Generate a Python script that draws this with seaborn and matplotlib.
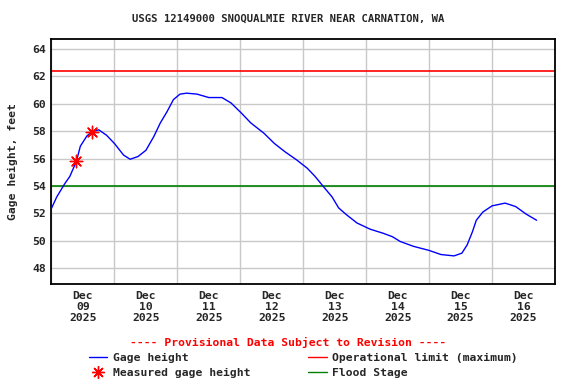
import numpy as np
import pandas as pd
import matplotlib
matplotlib.use('Agg')
from matplotlib import pyplot as plt
from matplotlib.lines import Line2D
import matplotlib.dates as mdates
import seaborn as sns

# gage height readings, hours since 2025-12-09 00:00
hours = [0, 2, 5, 7, 9.5, 11, 13.5, 15.5, 18, 21, 24, 27.5, 30, 33, 36, 39, 41.5, 44,
         46.5, 49, 51.5, 55.5, 60, 65, 68.5, 72.5, 76, 81, 85, 89, 93.5, 97.5, 100.5,
         103.5, 107, 109.5, 112.5, 116.5, 121.5, 126.5, 130, 133, 138, 144, 148.5,
         153.5, 156.5, 158.5, 160.5, 162, 164.5, 168, 173, 177, 181, 185]
gage = [52.37, 53.2, 54.15, 54.7, 55.8, 56.9, 57.65, 57.95, 58.1, 57.7, 57.1, 56.25,
        55.95, 56.15, 56.6, 57.6, 58.6, 59.4, 60.3, 60.7, 60.77, 60.7, 60.45, 60.45,
        60.05, 59.3, 58.6, 57.85, 57.1, 56.5, 55.9, 55.3, 54.7, 54.0, 53.2, 52.4, 51.9,
        51.3, 50.85, 50.55, 50.3, 49.95, 49.6, 49.3, 49.0, 48.9, 49.1, 49.7, 50.65,
        51.5, 52.1, 52.55, 52.75, 52.5, 51.95, 51.5]
meas_hours = [9.5, 15.5]
meas_gage = [55.8, 57.95]
operational_limit = 62.4
flood_stage = 54.0
day_labels = ['09', '10', '11', '12', '13', '14', '15', '16']

start = pd.Timestamp('2025-12-09 00:00')
df = pd.DataFrame({'time': start + pd.to_timedelta(hours, unit='h'), 'gage': gage})
dm = pd.DataFrame({'time': start + pd.to_timedelta(meas_hours, unit='h'), 'gage': meas_gage})

sns.set_style('white')
plt.rcParams['font.family'] = ['DejaVu Sans Mono']
plt.rcParams['font.weight'] = 'bold'
fs = 8.2

fig = plt.figure(figsize=(5.76, 3.84), dpi=100)
ax = fig.add_axes([0.0894, 0.2604, 0.8741, 0.6373])

ax.axhline(operational_limit, color='#ff0000', lw=1.2, zorder=2)
ax.axhline(flood_stage, color='#008000', lw=1.2, zorder=2)
sns.lineplot(data=df, x='time', y='gage', ax=ax, color='#0000ff', lw=1.0, zorder=3)
sns.scatterplot(data=dm, x='time', y='gage', ax=ax, color='#ff0000', marker=(8, 2, 0),
                s=80, linewidth=1.0, zorder=4)

ax.set_xlim(start, start + pd.Timedelta(days=8))
ax.set_ylim(46.85, 64.7)
ax.set_yticks(np.arange(48, 65, 2))
ax.xaxis.set_major_locator(mdates.DayLocator())
ax.xaxis.set_major_formatter(plt.NullFormatter())
ax.set_xticks(start + pd.to_timedelta(np.arange(8) * 24 + 12, unit='h'), minor=True)
ax.set_xticklabels(['Dec\n%s\n2025' % d for d in day_labels], minor=True,
                   fontsize=fs, fontweight='bold', linespacing=1.1)
ax.tick_params(axis='x', which='both', length=0, pad=5)
ax.tick_params(axis='y', length=0, pad=4, labelsize=fs)
ax.grid(True, which='major', color='#c8c8c8', lw=1.0)
for s in ax.spines.values():
    s.set_color('black')
    s.set_linewidth(1.3)
ax.set_xlabel('')
ax.set_ylabel('Gage height, feet', fontsize=fs, fontweight='bold', labelpad=10)

fig.suptitle('USGS 12149000 SNOQUALMIE RIVER NEAR CARNATION, WA', fontsize=7.7,
             fontweight='bold', y=0.965)
fig.text(0.5, 0.107, '---- Provisional Data Subject to Revision ----', color='#ff0000',
         ha='center', va='center', fontsize=fs, fontweight='bold')

handles = [Line2D([], [], color='#0000ff', lw=1.0),
           Line2D([], [], color='#ff0000', lw=0, marker=(8, 2, 0), markersize=9, markeredgewidth=1.0),
           Line2D([], [], color='#ff0000', lw=1.0),
           Line2D([], [], color='#008000', lw=1.0)]
labels = ['Gage height', 'Measured gage height', 'Operational limit (maximum)', 'Flood Stage']
fig.legend(handles, labels, ncol=2, loc='upper left', bbox_to_anchor=(0.1545, 0.082),
           frameon=False, fontsize=fs, handlelength=1.6, handletextpad=0.5,
           columnspacing=5.1, labelspacing=0.5, borderaxespad=0, borderpad=0)

fig.savefig('out.png', dpi=100)
